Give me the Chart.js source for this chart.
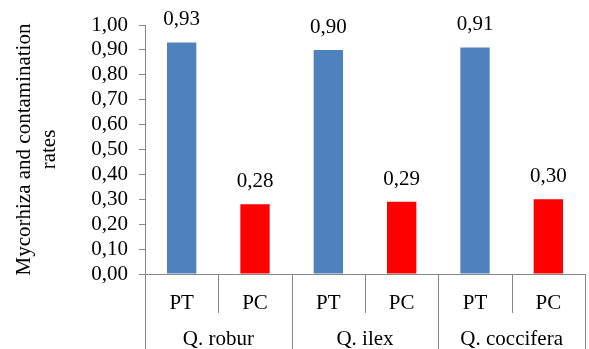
<!DOCTYPE html>
<html>
<head>
<meta charset="utf-8">
<script src="https://cdn.jsdelivr.net/npm/chart.js@4/dist/chart.umd.min.js"></script>
<style>
  html, body { margin: 0; padding: 0; background: #fff; }
  canvas { display: block; }
</style>
</head>
<body>
<canvas id="chart" width="589" height="349"></canvas>
<script>
// valeurs
const species = ['Q. robur', 'Q. ilex', 'Q. coccifera'];
const rateTypes = ['PT', 'PC'];
const ptValues = [0.93, 0.90, 0.91];
const pcValues = [0.28, 0.29, 0.30];
const yTicks = [0, 0.1, 0.2, 0.3, 0.4, 0.5, 0.6, 0.7, 0.8, 0.9, 1.0];

const BLUE = '#4F81BD';
const RED = '#FF0000';
const GREY = '#868686';
const FONT = "'Liberation Serif', 'Times New Roman', serif";
const SIZE = 21;

const labels = [];
const values = [];
const colors = [];
species.forEach((s, i) => {
    labels.push(rateTypes[0], rateTypes[1]);
    values.push(ptValues[i], pcValues[i]);
    colors.push(BLUE, RED);
});

const fmt = (v) => v.toFixed(2).replace('.', ',');

// etiquettes de valeur au-dessus des barres
const valueLabels = {
    id: 'valueLabels',
    afterDatasetsDraw(chart) {
        const { ctx } = chart;
        const meta = chart.getDatasetMeta(0);
        ctx.save();
        ctx.font = `${SIZE}px ${FONT}`;
        ctx.fillStyle = '#000';
        ctx.textAlign = 'center';
        ctx.textBaseline = 'alphabetic';
        meta.data.forEach((bar, i) => {
            ctx.fillText(fmt(values[i]), bar.x, bar.y - 17);
        });
        ctx.restore();
    },
};

// separateurs et libelles d'especes sous l'axe
const groupAxis = {
    id: 'groupAxis',
    afterDraw(chart) {
        const { ctx } = chart;
        const x = chart.scales.x;
        const area = chart.chartArea;
        const step = (area.right - area.left) / labels.length;
        ctx.save();
        ctx.strokeStyle = GREY;
        ctx.lineWidth = 1;
        for (let i = 0; i <= labels.length; i++) {
            const px = Math.round(area.left + i * step) + 0.5;
            const bottom = i % 2 === 0 ? chart.height : area.bottom + 39;
            ctx.beginPath();
            ctx.moveTo(px, area.bottom);
            ctx.lineTo(px, bottom);
            ctx.stroke();
        }
        ctx.font = `${SIZE}px ${FONT}`;
        ctx.fillStyle = '#000';
        ctx.textAlign = 'center';
        ctx.textBaseline = 'middle';
        species.forEach((s, i) => {
            const cx = (x.getPixelForValue(i * 2) + x.getPixelForValue(i * 2 + 1)) / 2;
            ctx.fillText(s, cx, 339);
        });
        ctx.restore();
    },
};

new Chart(document.getElementById('chart'), {
    type: 'bar',
    data: {
        labels,
        datasets: [{ data: values, backgroundColor: colors, barPercentage: 0.4, categoryPercentage: 1 }],
    },
    options: {
        responsive: false,
        animation: false,
        layout: { padding: { top: 25, right: 4, left: 0, bottom: 0 } },
        plugins: { legend: { display: false }, tooltip: { enabled: false } },
        scales: {
            x: {
                afterFit: (s) => { s.height = 75; },
                grid: { display: false },
                border: { color: GREY },
                ticks: { color: '#000', font: { family: FONT, size: SIZE }, padding: 9, maxRotation: 0 },
            },
            y: {
                min: 0,
                max: 1,
                afterFit: (s) => { s.width = 145; },
                afterBuildTicks: (s) => { s.ticks = yTicks.map((v) => ({ value: v })); },
                grid: { drawOnChartArea: false, drawTicks: true, tickLength: 6, color: GREY },
                border: { color: GREY },
                ticks: { color: '#000', font: { family: FONT, size: SIZE }, padding: 11, autoSkip: false, callback: (v) => fmt(v) },
                title: {
                    display: true,
                    text: ['Mycorhiza and contamination', 'rates'],
                    color: '#000',
                    font: { family: FONT, size: SIZE, lineHeight: 1.2 },
                    padding: { top: 12, bottom: 0 },
                },
            },
        },
    },
    plugins: [valueLabels, groupAxis],
});
</script>
</body>
</html>
